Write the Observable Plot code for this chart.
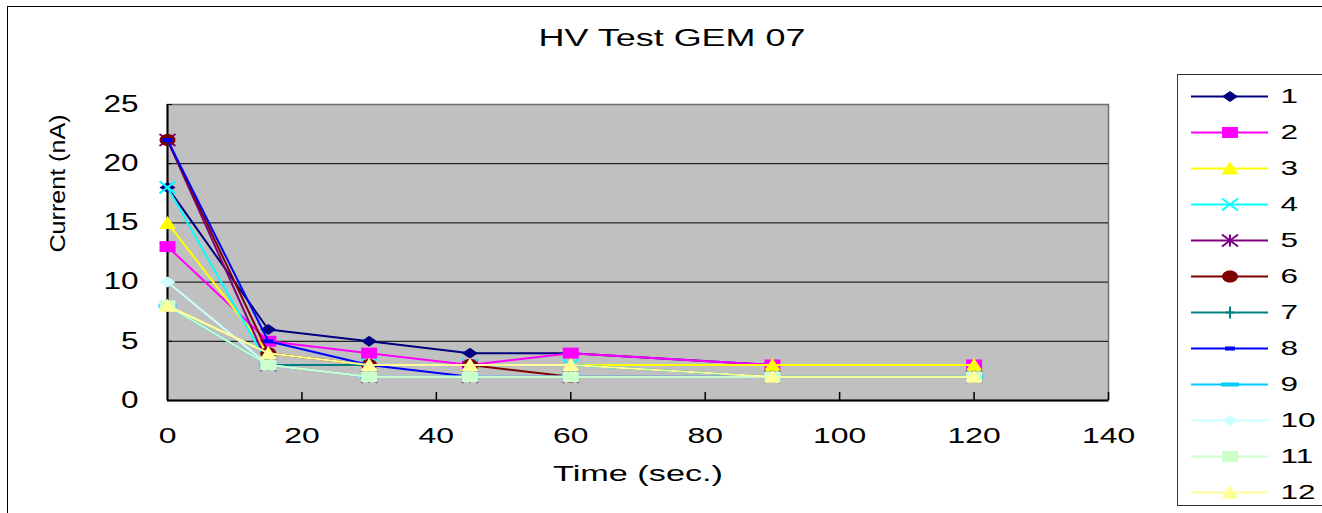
<!DOCTYPE html>
<html>
<head>
<meta charset="utf-8">
<script src="https://cdn.jsdelivr.net/npm/d3@7"></script>
<script src="https://cdn.jsdelivr.net/npm/@observablehq/plot@0.6"></script>
<style>
  html, body { margin: 0; padding: 0; background: #fff; overflow: hidden; }
  #wrap { position: relative; width: 1322px; height: 513px; overflow: hidden; }
  #chart { position: absolute; left: 0; top: 0; }
  #outer { position: absolute; left: 7px; top: 6px; width: 1400px; height: 600px; border: 1px solid #000; pointer-events: none; }
  #legendbox { position: absolute; left: 1177px; top: 74px; width: 200px; height: 430px; border: 1px solid #333; background: #fff; }
  #legend { position: absolute; left: 0; top: 0; }
</style>
</head>
<body>
<div id="wrap">
  <div id="chart"></div>
  <div id="legendbox"><div id="legend"></div></div>
  <div id="outer"></div>
</div>
<script>
// ---- data ----
const title = "HV Test GEM 07";
const xLabel = "Time (sec.)";
const yLabel = "Current (nA)";
const times = [0, 15, 30, 45, 60, 90, 120];
const seriesNames = ["1", "2", "3", "4", "5", "6", "7", "8", "9", "10", "11", "12"];
const s1  = [18, 6, 5, 4, 4, 3, 3];
const s2  = [13, 5, 4, 3, 4, 3, 3];
const s3  = [15, 4, 3, 3, 3, 3, 3];
const s4  = [18, 3, 3, 3, 3, 2, 2];
const s5  = [22, 3, 2, 2, 2, 2, 2];
const s6  = [22, 4, 3, 3, 2, 2, 2];
const s7  = [8, 3, 3, 3, 3, 2, 2];
const s8  = [22, 5, 3, 2, 2, 2, 2];
const s9  = [8, 3, 2, 2, 2, 2, 2];
const s10 = [10, 3, 2, 2, 2, 2, 2];
const s11 = [8, 3, 2, 2, 2, 2, 2];
const s12 = [8, 4, 3, 3, 3, 2, 2];
const seriesValues = [s1, s2, s3, s4, s5, s6, s7, s8, s9, s10, s11, s12];
const xTicks = [0, 20, 40, 60, 80, 100, 120, 140];
const yTicks = [0, 5, 10, 15, 20, 25];

// ---- styles ----
const colors = ["#000080", "#FF00FF", "#FFFF00", "#00FFFF", "#800080", "#800000",
                "#008080", "#0000FF", "#00CCFF", "#CCFFFF", "#CCFFCC", "#FFFF99"];
const diamondW = { draw(c) { c.moveTo(0, -5.5); c.lineTo(8, 0); c.lineTo(0, 5.5); c.lineTo(-8, 0); c.closePath(); } };
const squareW = { draw(c) { c.rect(-8, -5.5, 16, 11); } };
const triangleW = { draw(c) { c.moveTo(0, -7); c.lineTo(8.5, 6); c.lineTo(-8.5, 6); c.closePath(); } };
const timesW = { draw(c) { c.moveTo(-8, -6); c.lineTo(8, 6); c.moveTo(-8, 6); c.lineTo(8, -6); } };
const starW = { draw(c) { c.moveTo(-8, -6); c.lineTo(8, 6); c.moveTo(-8, 6); c.lineTo(8, -6); c.moveTo(0, -6); c.lineTo(0, 6); } };
const ellipseW = { draw(c) { const rx = 8, ry = 6, k = 0.5523;
  c.moveTo(rx, 0); c.bezierCurveTo(rx, ry * k, rx * k, ry, 0, ry); c.bezierCurveTo(-rx * k, ry, -rx, ry * k, -rx, 0);
  c.bezierCurveTo(-rx, -ry * k, -rx * k, -ry, 0, -ry); c.bezierCurveTo(rx * k, -ry, rx, -ry * k, rx, 0); c.closePath(); } };
const plusW = { draw(c) { c.moveTo(0, -6); c.lineTo(0, 6); c.moveTo(-4, 0); c.lineTo(4, 0); } };
const dashS = { draw(c) { c.rect(-5, -2, 10, 4); } };
const dashL = { draw(c) { c.rect(-9, -2, 18, 4); } };
const symbols = [diamondW, squareW, triangleW, timesW, starW, ellipseW, plusW, dashS, dashL, diamondW, squareW, triangleW];
const strokeSym = [false, false, false, true, true, false, true, false, false, false, false, false];

function dotStyle(i) {
  return strokeSym[i]
    ? { symbol: symbols[i], fill: "none", stroke: colors[i], strokeWidth: 2 }
    : { symbol: symbols[i], fill: colors[i], stroke: "none" };
}

const rows = seriesValues.flatMap((vals, i) => vals.map((v, j) => ({ name: seriesNames[i], time: times[j], current: v })));

// ---- main chart ----
const W = 1322, H = 513, mL = 167, mR = 214, mT = 104, mB = 113;
const frameW = W - mL - mR, frameH = H - mT - mB;

const marks = [
  Plot.frame({ fill: "#C0C0C0", stroke: "#6e6e6e", strokeWidth: 1.5 }),
  Plot.gridY(yTicks.filter(t => t > 0 && t < 25), { stroke: "#000", strokeOpacity: 1, strokeWidth: 1 }),
  Plot.tickX(xTicks.filter(t => t > 0), { x: d => d, insetTop: frameH - 8, stroke: "#000", strokeWidth: 1.5 }),
  Plot.tickY(yTicks.filter(t => t > 0), { y: d => d, insetRight: frameW - 5, stroke: "#000", strokeWidth: 1 }),
  Plot.ruleX([0], { stroke: "#000", strokeWidth: 2 }),
  Plot.ruleY([0], { stroke: "#000", strokeWidth: 2 }),
  Plot.axisX({ ticks: xTicks, tickSize: 0, tickPadding: 27, fontSize: 22, label: null }),
  Plot.axisY({ ticks: yTicks, tickSize: 0, tickPadding: 29, fontSize: 23, label: null })
];
seriesNames.forEach((name, i) => {
  const data = rows.filter(r => r.name === name);
  marks.push(Plot.line(data, { x: "time", y: "current", stroke: colors[i], strokeWidth: 2 }));
  marks.push(Plot.dot(data, { x: "time", y: "current", ...dotStyle(i) }));
});
marks.push(
  Plot.text([title], { text: d => d, frameAnchor: "top", lineAnchor: "bottom", dy: -59, dx: 34, fontSize: 23, fill: "#000" }),
  Plot.text([xLabel], { text: d => d, frameAnchor: "bottom", lineAnchor: "bottom", dy: 80, fontSize: 22, fill: "#000" }),
  Plot.text([yLabel], { text: d => d, frameAnchor: "left", lineAnchor: "middle", rotate: -90, dx: -110, fontSize: 22, fill: "#000" })
);

const chart = Plot.plot({
  width: W, height: H,
  marginLeft: mL, marginRight: mR, marginTop: mT, marginBottom: mB,
  style: { fontFamily: "'Liberation Sans', Arial, sans-serif", background: "transparent", color: "#000" },
  x: { domain: [0, 140], label: null, axis: null },
  y: { domain: [0, 25], label: null, axis: null },
  marks
});
document.getElementById("chart").append(chart);

// ---- legend ----
const LW = 200, LH = 430;
const legendMarks = [];
seriesNames.forEach((name, i) => {
  legendMarks.push(Plot.ruleY([name], { y: d => d, stroke: colors[i], strokeWidth: 2 }));
  legendMarks.push(Plot.dot([name], { y: d => d, frameAnchor: "middle", ...dotStyle(i) }));
});
legendMarks.push(Plot.text(seriesNames, { y: d => d, text: d => d, frameAnchor: "right", textAnchor: "start", dx: 12, fontSize: 21, fill: "#000" }));
const legend = Plot.plot({
  width: LW, height: LH,
  marginLeft: 13, marginRight: LW - 90, marginTop: 21, marginBottom: LH - 417,
  style: { fontFamily: "'Liberation Sans', Arial, sans-serif", background: "transparent", color: "#000", overflow: "visible" },
  x: { axis: null },
  y: { type: "point", domain: seriesNames, padding: 0, axis: null },
  marks: legendMarks
});
document.getElementById("legend").append(legend);

// ---- stretch text to match the wide reference glyphs ----
function stretchEl(t, f, fixed) {
  const w = t.getComputedTextLength();
  if (!w) return;
  t.setAttribute("textLength", fixed != null ? fixed : w * f);
  t.setAttribute("lengthAdjust", "spacingAndGlyphs");
}
chart.querySelectorAll("text").forEach(t => {
  const s = t.textContent;
  if (s === title) stretchEl(t, 1, 267);
  else if (s === xLabel) stretchEl(t, 1, 170);
  else if (s === yLabel) stretchEl(t, 1, 138);
  else if (t.closest('g[aria-label="x-axis tick label"]')) stretchEl(t, 1.45);
  else if (t.closest('g[aria-label="y-axis tick label"]')) stretchEl(t, 1.37);
});
legend.querySelectorAll("text").forEach(t => stretchEl(t, 1.5));
</script>
</body>
</html>
